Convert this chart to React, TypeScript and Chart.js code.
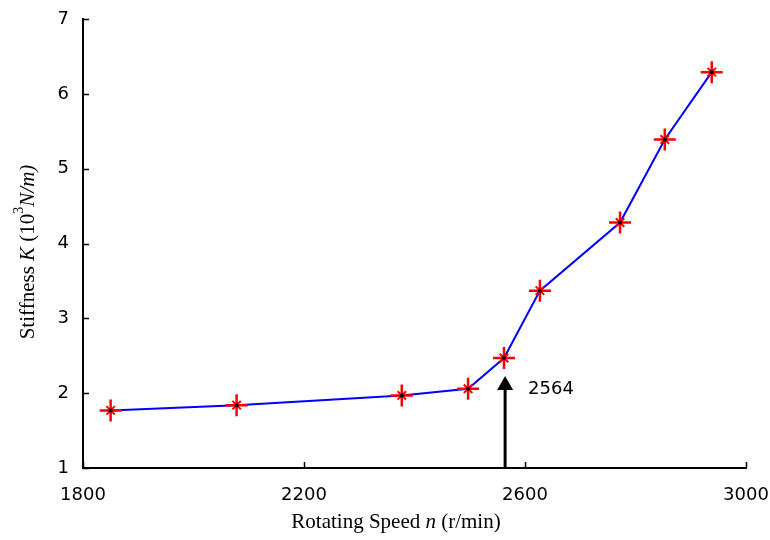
import React, { useEffect, useRef } from 'react';
import { Chart, registerables } from 'chart.js';

Chart.register(...registerables);

// ---- data ----
const speeds = [1850, 2078, 2377, 2497, 2562, 2627, 2772, 2853, 2938];
const stiffness = [1.77, 1.84, 1.97, 2.06, 2.47, 3.37, 4.28, 5.39, 6.29];
const xTickValues = [1800, 2200, 2600, 3000];
const yTickValues = [1, 2, 3, 4, 5, 6, 7];
const criticalSpeed = 2564;
const criticalLabel = '2564';
const arrowTopValue = 2.23;
const arrowLabelValue = 2.05;

const TICK_FAMILY = '"DejaVu Sans", sans-serif';
const TICK_FONT = `18px ${TICK_FAMILY}`;
const SERIF = '"Liberation Serif", "Times New Roman", serif';

type Part = { t: string; italic?: boolean; sup?: boolean };

function drawRich(ctx: CanvasRenderingContext2D, parts: Part[], size: number) {
  const fontFor = (p: Part) =>
    `${p.italic ? 'italic ' : ''}${p.sup ? Math.round(size * 0.65) : size}px ${SERIF}`;
  let total = 0;
  for (const p of parts) {
    ctx.font = fontFor(p);
    total += ctx.measureText(p.t).width;
  }
  let x = -total / 2;
  ctx.textBaseline = 'middle';
  ctx.textAlign = 'left';
  for (const p of parts) {
    ctx.font = fontFor(p);
    ctx.fillText(p.t, x, p.sup ? -size * 0.4 : 0);
    x += ctx.measureText(p.t).width;
  }
}

const zeroPad = (s: any) => {
  s.paddingLeft = 0;
  s.paddingRight = 0;
  s.paddingTop = 0;
  s.paddingBottom = 0;
};

const decorPlugin = {
  id: 'decor',
  afterDatasetsDraw(chart: any) {
    const { ctx, chartArea, scales } = chart;
    const xs = scales.x;
    const ys = scales.y;
    ctx.save();
    // inward tick marks
    ctx.strokeStyle = '#000';
    ctx.lineWidth = 1.5;
    ctx.beginPath();
    for (const v of yTickValues) {
      const y = Math.round(ys.getPixelForValue(v)) + 0.5;
      ctx.moveTo(chartArea.left, y);
      ctx.lineTo(chartArea.left + 6, y);
    }
    for (const v of xTickValues) {
      const x = Math.round(xs.getPixelForValue(v)) + 0.5;
      ctx.moveTo(x, chartArea.bottom);
      ctx.lineTo(x, chartArea.bottom - 6);
    }
    ctx.stroke();

    // critical speed arrow
    const ax = xs.getPixelForValue(criticalSpeed);
    const aTop = ys.getPixelForValue(arrowTopValue);
    const aBottom = chartArea.bottom;
    const headH = 14;
    ctx.lineWidth = 3;
    ctx.beginPath();
    ctx.moveTo(ax, aBottom);
    ctx.lineTo(ax, aTop + headH - 2);
    ctx.stroke();
    ctx.fillStyle = '#000';
    ctx.beginPath();
    ctx.moveTo(ax, aTop);
    ctx.lineTo(ax + 8, aTop + headH);
    ctx.lineTo(ax - 8, aTop + headH);
    ctx.closePath();
    ctx.fill();
    ctx.font = TICK_FONT;
    ctx.textAlign = 'left';
    ctx.textBaseline = 'middle';
    ctx.fillText(criticalLabel, ax + 23, ys.getPixelForValue(arrowLabelValue));

    // axis titles
    ctx.save();
    ctx.translate(396, 522);
    drawRich(ctx, [{ t: 'Rotating Speed ' }, { t: 'n', italic: true }, { t: ' (r/min)' }], 21);
    ctx.restore();

    ctx.save();
    ctx.translate(28, 252);
    ctx.rotate(-Math.PI / 2);
    drawRich(
      ctx,
      [
        { t: 'Stiffness ' },
        { t: 'K', italic: true },
        { t: ' (10' },
        { t: '3', sup: true },
        { t: 'N/m)', italic: true },
      ],
      21
    );
    ctx.restore();
    ctx.restore();
  },
};

export default function App() {
  const ref = useRef<HTMLCanvasElement | null>(null);

  useEffect(() => {
    if (!ref.current) return;
    const linePts = speeds.map((s, i) => ({ x: s, y: stiffness[i] }));
    const chart = new Chart(ref.current, {
      type: 'line',
      data: {
        datasets: [
          {
            data: linePts,
            borderColor: '#0000ff',
            borderWidth: 2,
            pointRadius: 0,
            tension: 0,
            order: 3,
          },
          {
            data: linePts,
            showLine: false,
            pointStyle: 'cross',
            pointRadius: 11,
            pointBorderWidth: 2.5,
            pointBorderColor: '#ff0000',
            pointBackgroundColor: '#ff0000',
            order: 2,
          },
          {
            data: linePts,
            showLine: false,
            pointStyle: 'crossRot',
            pointRadius: 6,
            pointBorderWidth: 2,
            pointBorderColor: '#ff0000',
            pointBackgroundColor: '#ff0000',
            order: 1,
          },
          {
            data: linePts,
            showLine: false,
            pointStyle: 'circle',
            pointRadius: 2,
            pointBorderWidth: 0,
            pointBackgroundColor: '#000000',
            order: 0,
          },
        ],
      },
      options: {
        animation: false,
        responsive: false,
        devicePixelRatio: 1,
        layout: { padding: { left: 0, top: 19, right: 24, bottom: 0 } },
        plugins: { legend: { display: false }, tooltip: { enabled: false } },
        scales: {
          x: {
            type: 'linear',
            min: 1800,
            max: 3000,
            afterBuildTicks: (s: any) => {
              s.ticks = xTickValues.map((v) => ({ value: v }));
            },
            afterFit: (s: any) => {
              s.height = 72;
              zeroPad(s);
            },
            grid: { display: false, drawTicks: false },
            border: { display: true, color: '#000', width: 2 },
            ticks: {
              color: '#000',
              font: { family: TICK_FAMILY, size: 18 },
              padding: 17,
              maxRotation: 0,
              callback: (v: any) => String(v),
            },
          },
          y: {
            type: 'linear',
            min: 1,
            max: 7,
            afterBuildTicks: (s: any) => {
              s.ticks = yTickValues.map((v) => ({ value: v }));
            },
            afterFit: (s: any) => {
              s.width = 83;
              zeroPad(s);
            },
            grid: { display: false, drawTicks: false },
            border: { display: true, color: '#000', width: 2 },
            ticks: {
              color: '#000',
              font: { family: TICK_FAMILY, size: 18 },
              padding: 14,
              callback: (v: any) => String(v),
            },
          },
        },
      },
      plugins: [decorPlugin],
    });
    return () => chart.destroy();
  }, []);

  return (
    <div style={{ position: 'absolute', left: 0, top: 0, width: 770, height: 540, background: '#fff' }}>
      <canvas ref={ref} width={770} height={540} style={{ width: 770, height: 540 }} />
    </div>
  );
}
